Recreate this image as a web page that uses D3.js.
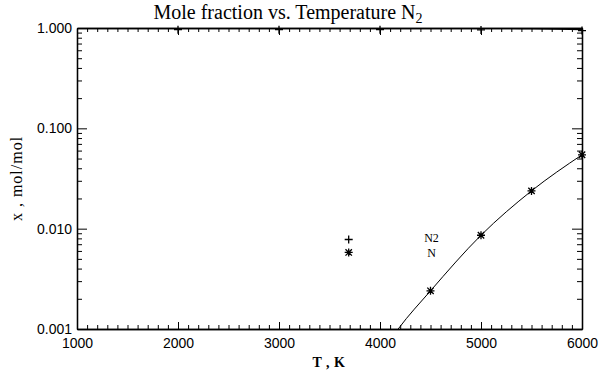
<!DOCTYPE html>
<html><head><meta charset="utf-8">
<script src="https://cdn.jsdelivr.net/npm/d3@7"></script>
<style>body{margin:0;background:#fff}svg{display:block}</style>
</head><body>
<svg id="c" width="602" height="374"></svg>
<script>
// ---- data ----
const xTicks = [1000, 2000, 3000, 4000, 5000, 6000];
const yTicks = [0.001, 0.01, 0.1, 1.0];
const yTickLabels = ["0.001", "0.010", "0.100", "1.000"];
// N2 curve and "+" markers
const n2LineT = [1000, 2000, 3000, 4000, 5000, 5500, 6000];
const n2LineX = [1.0, 1.0, 1.0, 1.0, 0.996, 0.985, 0.965];
const n2PtsT = [2000, 3000, 4000, 5000, 6000];
const n2PtsX = [0.985, 0.985, 0.985, 0.98, 0.965];
// N curve and "*" markers
const nLineT = [4000, 4180, 4500, 5000, 5500, 6000];
const nLineX = [0.00055, 0.001, 0.0024, 0.0086, 0.0238, 0.0545];
const nPtsT = [4500, 5000, 5500, 6000];
const nPtsX = [0.0024, 0.0086, 0.0238, 0.0545];
// legend
const legendNames = ["N2", "N"];
const legendSymbols = ["plus", "star"];
const legendT = 3690, legendLabelT = 4510;
const legendY = [0.0078, 0.0058];

// ---- layout ----
const L = 77, R = 582, T = 28, B = 329;
const svg = d3.select("#c");
const x = d3.scaleLinear().domain([1000, 6000]).range([L, R]);
const y = d3.scaleLog().domain([0.001, 1.0]).range([B, T]);
const ink = "#000";
const tickFont = "'Liberation Sans', Arial, sans-serif";
const serif = "'Liberation Serif', 'Times New Roman', serif";

svg.append("defs").append("clipPath").attr("id", "clip")
  .append("rect").attr("x", L).attr("y", T).attr("width", R - L).attr("height", B - T);

// minor tick values
const xMinor = d3.range(1000, 6001, 100).filter(v => v % 1000 !== 0);
const yMinor = [];
[0.001, 0.01, 0.1].forEach(d => { for (let k = 2; k <= 9; k++) yMinor.push(d * k); });

// bottom axis
const gB = svg.append("g").attr("transform", `translate(0,${B})`);
gB.call(d3.axisBottom(x).tickValues(xTicks).tickSizeInner(-7).tickSizeOuter(0).tickPadding(9).tickFormat(d3.format("d")));
gB.append("g").call(d3.axisBottom(x).tickValues(xMinor).tickSizeInner(-4).tickSizeOuter(0).tickFormat(""));
// top axis
const gT = svg.append("g").attr("transform", `translate(0,${T})`);
gT.call(d3.axisTop(x).tickValues(xTicks).tickSizeInner(-7).tickSizeOuter(0).tickFormat(""));
gT.append("g").call(d3.axisTop(x).tickValues(xMinor).tickSizeInner(-4).tickSizeOuter(0).tickFormat(""));
// left axis
const gL = svg.append("g").attr("transform", `translate(${L},0)`);
gL.call(d3.axisLeft(y).tickValues(yTicks).tickSizeInner(-10).tickSizeOuter(0).tickPadding(5)
  .tickFormat((d, i) => yTickLabels[i]));
gL.append("g").call(d3.axisLeft(y).tickValues(yMinor).tickSizeInner(-5).tickSizeOuter(0).tickFormat(""));
// right axis
const gR = svg.append("g").attr("transform", `translate(${R},0)`);
gR.call(d3.axisRight(y).tickValues(yTicks).tickSizeInner(-10).tickSizeOuter(0).tickFormat(""));
gR.append("g").call(d3.axisRight(y).tickValues(yMinor).tickSizeInner(-5).tickSizeOuter(0).tickFormat(""));

svg.selectAll(".domain").attr("stroke", ink).attr("stroke-width", 1.3);
svg.selectAll(".tick line").attr("stroke", ink).attr("stroke-width", 1);
svg.selectAll(".tick text").attr("font-family", tickFont).attr("font-size", 14).attr("fill", ink);

// lines
const plot = svg.append("g").attr("clip-path", "url(#clip)");
const line = d3.line().x(d => x(d[0])).y(d => y(d[1])).curve(d3.curveMonotoneX);
plot.append("path").datum(n2LineT.map((t, i) => [t, n2LineX[i]]))
  .attr("d", line).attr("fill", "none").attr("stroke", ink).attr("stroke-width", 1.2);
plot.append("path").datum(nLineT.map((t, i) => [t, nLineX[i]]))
  .attr("d", line).attr("fill", "none").attr("stroke", ink).attr("stroke-width", 1);

// symbols
function sym(g, type, cx, cy) {
  const s = 4;
  let d = `M${cx - s},${cy}H${cx + s}M${cx},${cy - s}V${cy + s}`;
  if (type === "star") {
    const a = s * 0.8;
    d = `M${cx},${cy - s}V${cy + s}M${cx - a},${cy - a}L${cx + a},${cy + a}M${cx - a},${cy + a}L${cx + a},${cy - a}M${cx - s},${cy}H${cx + s}`;
  }
  g.append("path").attr("d", d).attr("stroke", ink).attr("stroke-width", 1.3).attr("fill", "none");
}
const marks = svg.append("g");
n2PtsT.forEach((t, i) => sym(marks, "plus", x(t), y(n2PtsX[i]) + 1));
nPtsT.forEach((t, i) => sym(marks, "star", x(t), y(nPtsX[i])));

// legend
legendNames.forEach((n, i) => {
  sym(svg, legendSymbols[i], x(legendT), y(legendY[i]));
  svg.append("text").attr("x", x(legendLabelT)).attr("y", y(legendY[i]) + 3 + 2 * i)
    .attr("text-anchor", "middle").attr("font-family", serif).attr("font-size", 12).attr("fill", ink).text(n);
});

// title
const title = svg.append("text").attr("x", 288).attr("y", 19).attr("text-anchor", "middle")
  .attr("font-family", serif).attr("font-size", 20).attr("fill", ink);
title.append("tspan").text("Mole fraction vs. Temperature N");
title.append("tspan").attr("dy", 4).attr("font-size", 14).text("2");

// axis titles
svg.append("text").attr("x", 329).attr("y", 367).attr("text-anchor", "middle")
  .attr("font-family", serif).attr("font-size", 14).attr("font-weight", "bold").attr("letter-spacing", 0.5)
  .attr("fill", ink).text("T , K");
svg.append("text").attr("transform", `translate(22,${(T + B) / 2}) rotate(-90)`).attr("text-anchor", "middle")
  .attr("font-family", serif).attr("font-size", 16).attr("letter-spacing", 1).attr("fill", ink).text("x , mol/mol");
</script>
</body></html>
